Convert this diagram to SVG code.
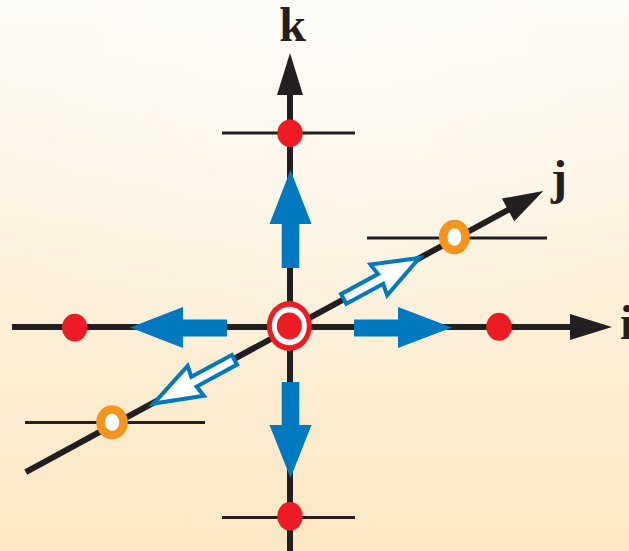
<svg xmlns="http://www.w3.org/2000/svg" width="629" height="551" viewBox="0 0 629 551">
  <defs>
    <linearGradient id="bg" x1="0" y1="0" x2="0" y2="1">
      <stop offset="0" stop-color="#fdfaf4"/>
      <stop offset="1" stop-color="#fce8c3"/>
    </linearGradient>
    <radialGradient id="glow" cx="0.5" cy="0" r="0.7">
      <stop offset="0" stop-color="#ffffff" stop-opacity="0.5"/>
      <stop offset="1" stop-color="#ffffff" stop-opacity="0"/>
    </radialGradient>
  </defs>
  <style>
    .axis { stroke: #231f20; stroke-width: 6; fill: none; }
    .tick { stroke: #231f20; stroke-width: 3; fill: none; }
    .head { fill: #231f20; }
    .red { fill: #ed1c24; }
    .blue { fill: #0079c1; }
    .hollow { fill: #ffffff; stroke: #0079c1; stroke-width: 4; stroke-linejoin: miter; }
    .orange { fill: #ffffff; stroke: #f7941d; }
    .lbl { font-family: "Liberation Serif", "Times New Roman", serif; font-weight: bold; font-size: 48px; fill: #231f20; }
  </style>
  <rect width="629" height="551" fill="url(#bg)"/>
  <rect width="629" height="551" fill="url(#glow)"/>

  <g id="connectors">
    <!-- vertical k axis -->
    <line class="axis" x1="290" y1="92" x2="290" y2="551"/>
    <polygon class="head" points="290,53 303,95 277,95"/>
    <!-- horizontal i axis -->
    <line class="axis" x1="12" y1="327" x2="573" y2="327"/>
    <polygon class="head" points="612,327 570,314 570,340"/>
    <!-- diagonal j axis -->
    <g transform="translate(290,328) rotate(-28.43)">
      <line class="axis" x1="-301" y1="1" x2="252" y2="0"/>
      <polygon class="head" points="288,0 248,-13 248,13"/>
    </g>
    <!-- ticks -->
    <line class="tick" x1="222" y1="133" x2="355" y2="133"/>
    <line class="tick" x1="222" y1="517.5" x2="355" y2="517.5"/>
    <line class="tick" x1="367" y1="238" x2="547" y2="238"/>
    <line class="tick" x1="25" y1="422.5" x2="205" y2="422.5"/>
    <!-- solid blue arrows -->
    <polygon class="blue" points="130,327.5 183,307 183,319.5 227,319.5 227,336.5 183,336.5 183,348"/>
    <polygon class="blue" points="452,327.5 398,307 398,319.5 354,319.5 354,336.5 398,336.5 398,348"/>
    <polygon class="blue" points="290.5,170 311.5,224 299.3,224 299.3,268 281.7,268 281.7,224 269.5,224"/>
    <polygon class="blue" points="290.5,478 311.5,425 299.3,425 299.3,382 281.7,382 281.7,425 269.5,425"/>
    <!-- hollow blue arrows -->
    <g transform="translate(290,328) rotate(-28.43)">
      <polygon class="hollow" points="61,-5.5 103,-5.5 101,-17.5 147,0 101,17.5 103,5.5 61,5.5"/>
      <polygon class="hollow" points="-64,-4 -110,-4 -108,-15.5 -156,1.5 -108,18.5 -110,7 -64,7"/>
    </g>
  </g>

  <g id="node-top">
    <ellipse class="red" cx="290" cy="133.3" rx="12.7" ry="13.8"/>
  </g>
  <g id="node-bottom">
    <ellipse class="red" cx="290" cy="516.3" rx="12.7" ry="14.3"/>
  </g>
  <g id="node-left">
    <ellipse class="red" cx="74.7" cy="327.6" rx="12.7" ry="13.9"/>
  </g>
  <g id="node-right">
    <ellipse class="red" cx="499" cy="326.8" rx="12.8" ry="14"/>
  </g>
  <g id="node-center">
    <ellipse class="red" cx="289.3" cy="326" rx="22.5" ry="25"/>
    <ellipse fill="#ffffff" cx="289.3" cy="326" rx="17.5" ry="19.3"/>
    <ellipse class="red" cx="289.3" cy="326" rx="12.5" ry="13.5"/>
  </g>
  <g id="node-j-upper">
    <ellipse class="orange" cx="454.4" cy="237" rx="11.2" ry="13.1" stroke-width="8.5"/>
  </g>
  <g id="node-j-lower">
    <ellipse class="orange" cx="112" cy="422.4" rx="11.5" ry="12.8" stroke-width="8.5"/>
  </g>

  <g id="labels">
    <text class="lbl" x="292.5" y="41" text-anchor="middle">k</text>
    <text class="lbl" x="559" y="194" text-anchor="middle">j</text>
    <text class="lbl" x="620" y="339">i</text>
  </g>
</svg>
